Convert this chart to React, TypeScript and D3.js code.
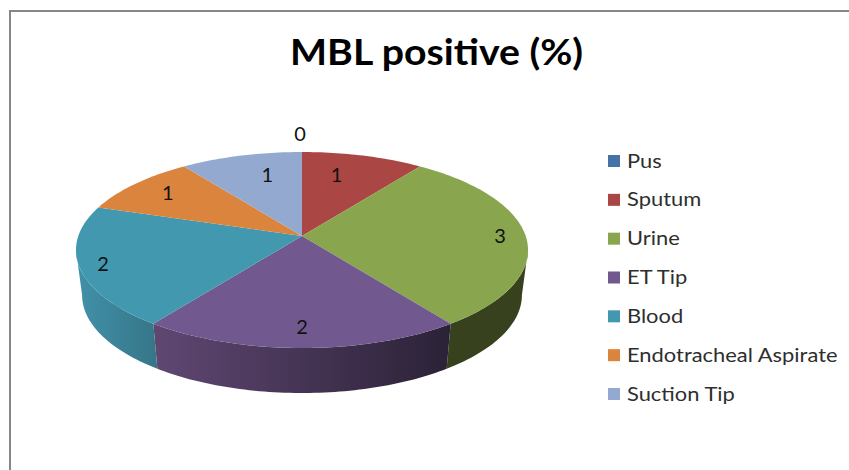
import React from "react";
import * as d3 from "d3";

const categories = ["Pus", "Sputum", "Urine", "ET Tip", "Blood", "Endotracheal Aspirate", "Suction Tip"];
const values = [0, 1, 3, 2, 2, 1, 1];
const colors = ["#4572a7", "#aa4643", "#89a54e", "#71588f", "#4198af", "#db843d", "#93a9cf"];
// wall shading, left and right end of the visible side
const wallLeft = ["#3a5a80", "#7a3230", "#3a4520", "#5f4772", "#4191a9", "#a8622c", "#7083a3"];
const wallRight = ["#2a4260", "#5a2422", "#37411e", "#2b2237", "#367689", "#80491f", "#55647d"];
// nudges from the default label spot, the way Excel fits labels in the slices
const labelNudge = [[-2, -27], [-20, 11], [0, 0], [0, -6], [-3, 1], [15, 3], [20, 11]];

const width = 849;
const height = 470;
const cx = 302;
const cy = 236;
const A = 223.7;
const B = 96;
const k = 1 / 7; // perspective of the tilted disc
const depth = 45;
const bottomScale = 0.973;

// only this part of the rim faces the viewer (widest points of the disc)
const frontStart = Math.acos(-k);
const frontEnd = 2 * Math.PI - frontStart;

// tilted circle -> screen, angle is clockwise from the top
const project = (angle: number, r = 1): [number, number] => {
    const d = 1 + k * r * Math.cos(angle);
    return [cx + (A * r * Math.sin(angle)) / d, cy - (B * r * Math.cos(angle)) / d];
};

const lowered = ([x, y]: [number, number]): [number, number] => [cx + (x - cx) * bottomScale, y + depth];

const arcPoints = (a0: number, a1: number) => {
    const n = Math.max(2, Math.ceil((a1 - a0) / 0.02));
    return d3.range(n + 1).map((i) => project(a0 + ((a1 - a0) * i) / n));
};

const line = d3.line<[number, number]>();
const pie = d3.pie<number>().sort(null).startAngle(0).endAngle(2 * Math.PI);

export default function App() {
    const arcs = pie(values);
    const legendY = d3.scalePoint<string>().domain(categories).range([161, 394]);

    return (
        <svg
            width={width}
            height={height}
            style={{ position: "absolute", left: 0, top: 0, background: "#fff" }}
            fontFamily="Lato, sans-serif"
        >
            <defs>
                {arcs.map((d, i) => (
                    <linearGradient key={i} id={`wall${i}`} gradientUnits="userSpaceOnUse" x1={i === 4 ? 77 : 155} x2={i === 4 ? 155 : 450} y1={0} y2={0}>
                        <stop offset="0" stopColor={wallLeft[i]} />
                        <stop offset="1" stopColor={wallRight[i]} />
                    </linearGradient>
                ))}
            </defs>

            <path d="M10,470V11H849" fill="none" stroke="#868686" strokeWidth={2} />

            <text transform="translate(290,65) scale(1.09,1)" fontSize={36} fontWeight={700} fill="#000">
                MBL positive (%)
            </text>

            {/* side walls, front part of the rim only */}
            {arcs.map((d, i) => {
                const a0 = Math.max(d.startAngle, frontStart);
                const a1 = Math.min(d.endAngle, frontEnd);
                if (d.value === 0 || a1 <= a0) return null;
                const top = arcPoints(a0, a1);
                const wall = [...top, ...top.map(lowered).reverse()];
                return <path key={i} d={line(wall) + "Z"} fill={`url(#wall${i})`} />;
            })}

            {arcs.map((d, i) => {
                if (d.value === 0) return null;
                const pts: [number, number][] = [[cx, cy], ...arcPoints(d.startAngle, d.endAngle)];
                return <path key={i} d={line(pts) + "Z"} fill={colors[i]} />;
            })}

            {arcs.map((d, i) => {
                const [x, y] = project((d.startAngle + d.endAngle) / 2, 0.885);
                return (
                    <text key={i} x={x + labelNudge[i][0]} y={y + labelNudge[i][1]} dy="0.35em" textAnchor="middle" fontSize={20} fill="#111">
                        {values[i]}
                    </text>
                );
            })}

            {categories.map((c, i) => (
                <g key={c} transform={`translate(608,${legendY(c)})`}>
                    <rect x={0} y={-6} width={12} height={12} fill={colors[i]} />
                    <text transform="translate(19,0) scale(1.153,1)" dy="0.35em" fontSize={19} fill="#2e2e2e">
                        {c}
                    </text>
                </g>
            ))}
        </svg>
    );
}
